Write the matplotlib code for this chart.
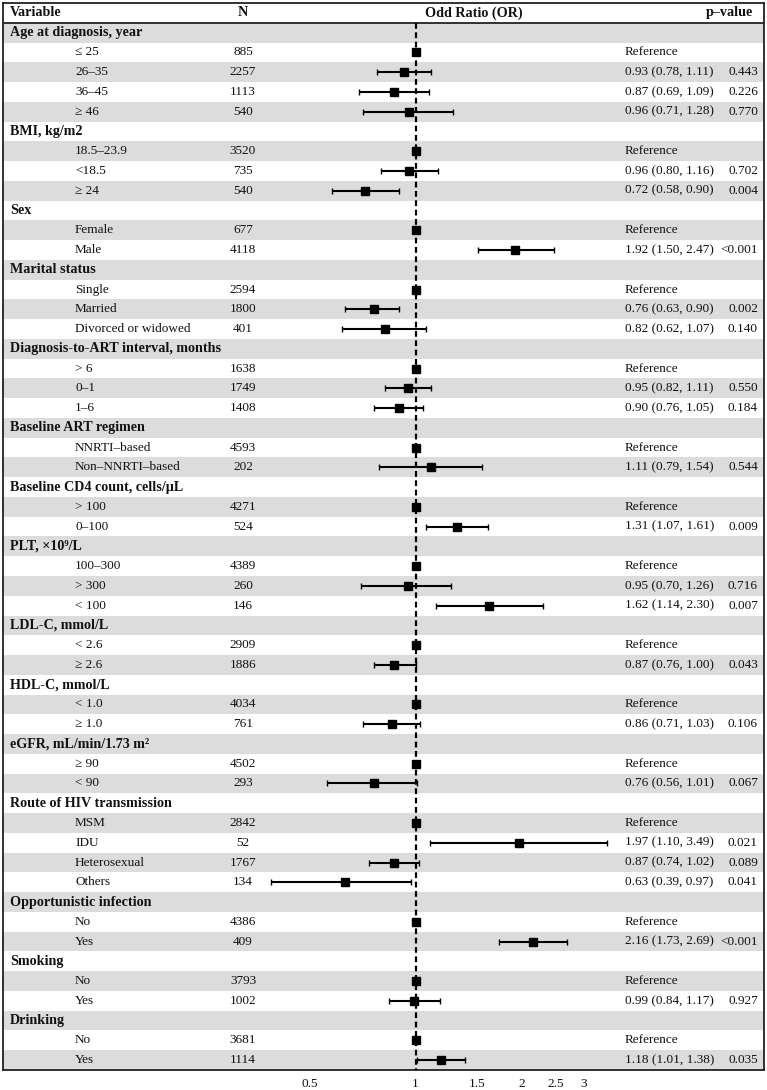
#!/usr/bin/env python3
"""Forest plot of odds ratios, drawn as a shaded table with an OR panel."""

import math

import matplotlib
matplotlib.use("Agg")
import matplotlib.pyplot as plt


plt.rcParams["font.family"] = ["Liberation Serif", "DejaVu Serif"]

# ---------------------------------------------------------------------------
# Data
# ---------------------------------------------------------------------------

groups = [
    "Age at diagnosis, year",
    "BMI, kg/m2",
    "Sex",
    "Marital status",
    "Diagnosis-to-ART interval, months",
    "Baseline ART regimen",
    "Baseline CD4 count, cells/µL",
    "PLT, ×10⁹/L",
    "LDL-C, mmol/L",
    "HDL-C, mmol/L",
    "eGFR, mL/min/1.73 m²",
    "Route of HIV transmission",
    "Opportunistic infection",
    "Smoking",
    "Drinking",
]

levels = [
    ["≤ 25", "26–35", "36–45", "≥ 46"],
    ["18.5–23.9", "<18.5", "≥ 24"],
    ["Female", "Male"],
    ["Single", "Married", "Divorced or widowed"],
    ["> 6", "0–1", "1–6"],
    ["NNRTI–based", "Non–NNRTI–based"],
    ["> 100", "0–100"],
    ["100–300", "> 300", "< 100"],
    ["< 2.6", "≥ 2.6"],
    ["< 1.0", "≥ 1.0"],
    ["≥ 90", "< 90"],
    ["MSM", "IDU", "Heterosexual", "Others"],
    ["No", "Yes"],
    ["No", "Yes"],
    ["No", "Yes"],
]

counts = [
    [885, 2257, 1113, 540],
    [3520, 735, 540],
    [677, 4118],
    [2594, 1800, 401],
    [1638, 1749, 1408],
    [4593, 202],
    [4271, 524],
    [4389, 260, 146],
    [2909, 1886],
    [4034, 761],
    [4502, 293],
    [2842, 52, 1767, 134],
    [4386, 409],
    [3793, 1002],
    [3681, 1114],
]

# reference level has OR 1 and no interval (None)
odds = [
    [1.0, 0.93, 0.87, 0.96],
    [1.0, 0.96, 0.72],
    [1.0, 1.92],
    [1.0, 0.76, 0.82],
    [1.0, 0.95, 0.90],
    [1.0, 1.11],
    [1.0, 1.31],
    [1.0, 0.95, 1.62],
    [1.0, 0.87],
    [1.0, 0.86],
    [1.0, 0.76],
    [1.0, 1.97, 0.87, 0.63],
    [1.0, 2.16],
    [1.0, 0.99],
    [1.0, 1.18],
]

ci_low = [
    [None, 0.78, 0.69, 0.71],
    [None, 0.80, 0.58],
    [None, 1.50],
    [None, 0.63, 0.62],
    [None, 0.82, 0.76],
    [None, 0.79],
    [None, 1.07],
    [None, 0.70, 1.14],
    [None, 0.76],
    [None, 0.71],
    [None, 0.56],
    [None, 1.10, 0.74, 0.39],
    [None, 1.73],
    [None, 0.84],
    [None, 1.01],
]

ci_high = [
    [None, 1.11, 1.09, 1.28],
    [None, 1.16, 0.90],
    [None, 2.47],
    [None, 0.90, 1.07],
    [None, 1.11, 1.05],
    [None, 1.54],
    [None, 1.61],
    [None, 1.26, 2.30],
    [None, 1.00],
    [None, 1.03],
    [None, 1.01],
    [None, 3.49, 1.02, 0.97],
    [None, 2.69],
    [None, 1.17],
    [None, 1.38],
]

p_values = [
    [None, "0.443", "0.226", "0.770"],
    [None, "0.702", "0.004"],
    [None, "<0.001"],
    [None, "0.002", "0.140"],
    [None, "0.550", "0.184"],
    [None, "0.544"],
    [None, "0.009"],
    [None, "0.716", "0.007"],
    [None, "0.043"],
    [None, "0.106"],
    [None, "0.067"],
    [None, "0.021", "0.089", "0.041"],
    [None, "<0.001"],
    [None, "0.927"],
    [None, "0.035"],
]

tick_values = [0.5, 1, 1.5, 2, 2.5, 3]
tick_labels = ["0.5", "1", "1.5", "2", "2.5", "3"]

# ---------------------------------------------------------------------------
# Layout (pixel based, figure is 767 x 1090 at 100 dpi)
# ---------------------------------------------------------------------------

W, H = 767, 1090
FRAME = (3, 3, 764, 1070)          # x0, y0, x1, y1 from the top-left
FOREST_X = (255, 612)              # horizontal extent of the OR panel
ONE_PX, PX_PER_LN = 415.5, 153.0   # where OR = 1 sits, px per log unit
FS = 9.5
FS_BOLD = 10.2
INK = "#111111"
SHADE = "#dcdcdc"


def fig_box(x0, y0, x1, y1):
    return [x0 / W, 1 - y1 / H, (x1 - x0) / W, (y1 - y0) / H]


n_rows = sum(1 + len(lv) for lv in levels)

fig = plt.figure(figsize=(W / 100, H / 100), dpi=100)

# table / background axes -----------------------------------------------------
tab = fig.add_axes(fig_box(*FRAME))
tab.set_xlim(FRAME[0], FRAME[2])
tab.set_ylim(n_rows + 0.5, -0.5)
tab.set_xticks([])
tab.set_yticks([])
for sp in tab.spines.values():
    sp.set_linewidth(1.3)
    sp.set_color("#222222")

for i in range(1, n_rows + 1, 2):
    tab.axhspan(i - 0.5, i + 0.5, color=SHADE, lw=0, zorder=0)
tab.axhline(0.5, color="#222222", lw=1.3, zorder=1)

# header row
tab.text(10, 0, "Variable", fontweight="bold", fontsize=FS_BOLD, va="center", color=INK)
tab.text(243, 0, "N", fontweight="bold", fontsize=FS_BOLD, va="center", ha="center", color=INK)
tab.text(425, 0, "Odd Ratio (OR)", fontweight="bold", fontsize=FS_BOLD, va="center", color=INK)
tab.text(753, 0, "p–value", fontweight="bold", fontsize=FS_BOLD, va="center", ha="right", color=INK)

# forest axes -------------------------------------------------------------------
fax = fig.add_axes(fig_box(FOREST_X[0], FRAME[1], FOREST_X[1], FRAME[3]))
fax.set_xscale("log")
fax.set_xlim(math.exp((FOREST_X[0] - ONE_PX) / PX_PER_LN),
             math.exp((FOREST_X[1] - ONE_PX) / PX_PER_LN))
fax.set_ylim(n_rows + 0.5, -0.5)
fax.patch.set_alpha(0)
for sp in fax.spines.values():
    sp.set_visible(False)
fax.set_yticks([])
fax.set_xticks(tick_values)
fax.set_xticklabels(tick_labels)
fax.minorticks_off()
fax.tick_params(axis="x", length=0, pad=6, labelsize=FS, labelcolor=INK)

fax.vlines(1, 0.5, n_rows + 0.5, colors="black", lw=1.6,
           linestyles=(0, (2.6, 1.6)), zorder=2)

# rows ----------------------------------------------------------------------------
y = 1
for g, lv, nn, orv, lo, hi, pv in zip(groups, levels, counts, odds, ci_low, ci_high, p_values):
    tab.text(10, y, g, fontweight="bold", fontsize=FS_BOLD, va="center", color=INK)
    y += 1
    for name, n, o, l, h, p in zip(lv, nn, orv, lo, hi, pv):
        tab.text(75, y, name, fontsize=FS, va="center", color=INK)
        tab.text(243, y, str(n), fontsize=FS, va="center", ha="center", color=INK)
        if l is None:
            tab.text(625, y, "Reference", fontsize=FS, va="center", color=INK)
            fax.plot([o], [y], "s", color="black", ms=6.3, zorder=3)
        else:
            tab.text(625, y, f"{o:.2f} ({l:.2f}, {h:.2f})", fontsize=FS,
                     va="center", color=INK)
            tab.text(758, y, p, fontsize=FS, va="center", ha="right", color=INK)
            fax.errorbar([o], [y], xerr=[[o - l], [h - o]], fmt="s", color="black",
                         ms=6.3, elinewidth=1.5, capsize=2.5, capthick=1.0, zorder=3)
        y += 1

fig.savefig("out.png", dpi=100)
print("Saved plot --> out.png")
